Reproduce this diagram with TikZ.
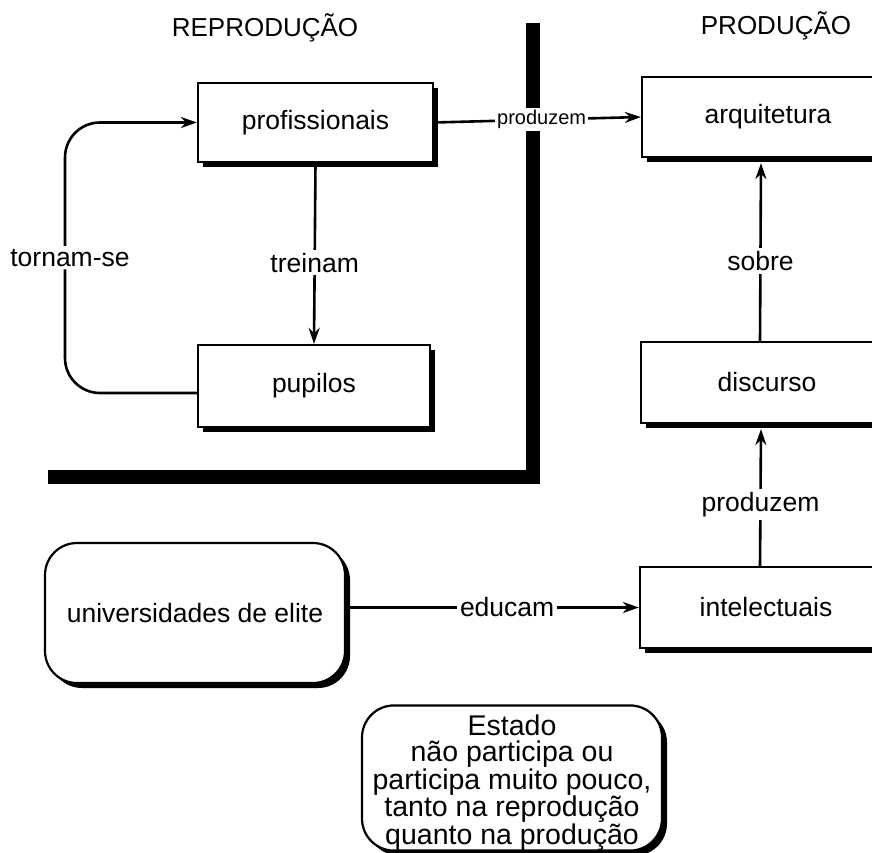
\documentclass[tikz,border=0pt]{standalone}
\usepackage{fontspec}
\setmainfont{Liberation Sans}
\usetikzlibrary{shadows,arrows.meta}

\begin{document}
\begin{tikzpicture}[x=1pt,y=-1pt,
  box/.style={draw, line width=2.2pt, fill=white, rectangle, inner sep=0pt,
    general shadow={shadow xshift=5pt, shadow yshift=-5pt, fill=black},
    font=\fontsize{26.5}{29}\selectfont},
  roundbox/.style={box, rounded corners=32pt},
  link/.style={line width=2.6pt, -{Stealth[length=16pt,width=11pt]}},
  lbl/.style={fill=white, inner sep=3pt, font=\fontsize{26.5}{29}\selectfont},
  smalllbl/.style={fill=white, inner sep=2pt, font=\fontsize{20}{22}\selectfont},
  title/.style={inner sep=0pt, font=\fontsize{26}{29}\selectfont},
  bar/.style={line width=14pt, line cap=butt, line join=miter}
]
\useasboundingbox (0,0) rectangle (872,852);
\clip (0,0) rectangle (872,852);

% column headings
\node[title] (trep) at (265,28) {REPRODUÇÃO};
\node[title] (tprod) at (776,26) {PRODUÇÃO};

% thick divider around the reproduction area
\coordinate (bartop) at (533,23);
\coordinate (barcorner) at (533,477);
\coordinate (barend) at (48,477);
\draw[bar] (bartop) -- (barcorner) -- (barend);

% boxes
\node[box, minimum width=235pt, minimum height=79pt] (profissionais) at (315.5,122.5) {profissionais};
\node[box, minimum width=232pt, minimum height=82pt] (pupilos) at (314,386) {pupilos};
\node[box, minimum width=252pt, minimum height=80pt] (arquitetura) at (768,117) {arquitetura};
\node[box, minimum width=252pt, minimum height=81pt] (discurso) at (767,382.5) {discurso};
\node[box, minimum width=252pt, minimum height=81pt] (intelectuais) at (766,607.5) {intelectuais};
\node[roundbox, minimum width=300pt, minimum height=140pt] (universidades) at (195,613) {universidades de elite};
\node[roundbox, minimum width=300pt, minimum height=140pt, align=center,
      font=\fontsize{28.5}{26.3}\selectfont] (estado) at (512,778)
  {\rule{0pt}{30pt}Estado\\não participa ou\\participa muito pouco,\\tanto na reprodução\\quanto na produção};

% connectors
\draw[link] (profissionais.east) -- node[smalllbl, pos=0.52] {produzem} (arquitetura.west);
\draw[link] (profissionais.south) -- node[lbl, pos=0.55] {treinam} (pupilos.north);
\coordinate (loopbottom) at (65,393);
\coordinate (looptop) at (65,122.5);
\draw[link, rounded corners=35pt] ([yshift=-7pt]pupilos.west) -- (loopbottom)
  -- node[lbl, xshift=5pt] {tornam-se} (looptop) -- (profissionais.west);
\draw[link] ([xshift=-7pt]discurso.north) -- node[lbl, pos=0.45] {sobre}
  ([xshift=-7pt,yshift=-5pt]arquitetura.south);
\draw[link] ([xshift=-6pt]intelectuais.north) -- node[lbl, pos=0.45] {produzem}
  ([xshift=-6pt,yshift=-5pt]discurso.south);
\draw[link] (universidades.east |- intelectuais.west) -- node[lbl, pos=0.55] {educam}
  (intelectuais.west);
\end{tikzpicture}
\end{document}
